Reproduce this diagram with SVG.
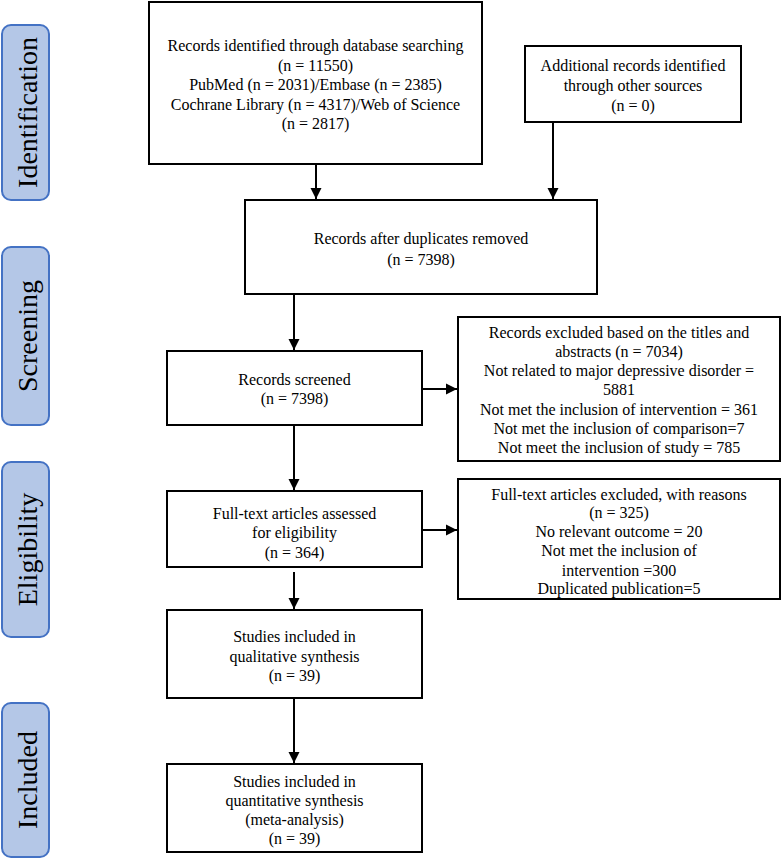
<svg xmlns="http://www.w3.org/2000/svg" width="782" height="859" viewBox="0 0 782 859">
<style>
  .box { fill: #ffffff; stroke: #000000; stroke-width: 2; }
  .phase { fill: #b4c7e7; stroke: #4472c4; stroke-width: 2; }
  .t { font-family: "Liberation Serif", "Times New Roman", serif; font-size: 16px; fill: #000; text-anchor: middle; }
  .pt { font-family: "Liberation Serif", "Times New Roman", serif; font-size: 28px; fill: #000; text-anchor: middle; }
  .conn { stroke: #000; stroke-width: 2; fill: none; marker-end: url(#arrow); }
</style>
<defs>
  <marker id="arrow" markerUnits="userSpaceOnUse" markerWidth="12" markerHeight="12" refX="11" refY="6" orient="auto">
    <path d="M0,0.5 L11,6 L0,11.5 z" fill="#000"/>
  </marker>
</defs>
<rect width="782" height="859" fill="#ffffff"/>

<g id="phase-identification">
  <rect class="phase" x="2" y="25" width="47" height="175" rx="9"/>
  <text class="pt" transform="translate(37,112.5) rotate(-90)">Identification</text>
</g>
<g id="phase-screening">
  <rect class="phase" x="2" y="247" width="47" height="178" rx="9"/>
  <text class="pt" transform="translate(37,336) rotate(-90)">Screening</text>
</g>
<g id="phase-eligibility">
  <rect class="phase" x="2" y="462" width="47" height="175" rx="9"/>
  <text class="pt" transform="translate(37,549.5) rotate(-90)">Eligibility</text>
</g>
<g id="phase-included">
  <rect class="phase" x="2" y="703" width="47" height="154" rx="9"/>
  <text class="pt" transform="translate(37,780) rotate(-90)">Included</text>
</g>

<g id="node-database">
  <rect class="box" x="149" y="2" width="333" height="162"/>
  <text class="t" x="315.5" y="51">Records identified through database searching</text>
  <text class="t" x="315.5" y="70.5">(n = 11550)</text>
  <text class="t" x="315.5" y="90">PubMed (n = 2031)/Embase (n = 2385)</text>
  <text class="t" x="315.5" y="109.5">Cochrane Library (n = 4317)/Web of Science</text>
  <text class="t" x="315.5" y="129">(n = 2817)</text>
</g>
<g id="node-additional">
  <rect class="box" x="525" y="46" width="216" height="76"/>
  <text class="t" x="633" y="70.5">Additional records identified</text>
  <text class="t" x="633" y="90.5">through other sources</text>
  <text class="t" x="633" y="110.5">(n = 0)</text>
</g>
<g id="node-duplicates">
  <rect class="box" x="245" y="200" width="352" height="94"/>
  <text class="t" x="421" y="244">Records after duplicates removed</text>
  <text class="t" x="421" y="265">(n = 7398)</text>
</g>
<g id="node-screened">
  <rect class="box" x="167" y="351" width="255" height="74"/>
  <text class="t" x="294.5" y="384.5">Records screened</text>
  <text class="t" x="294.5" y="403.5">(n = 7398)</text>
</g>
<g id="node-excluded-titles">
  <rect class="box" x="458" y="317" width="322" height="144"/>
  <text class="t" x="619" y="337.5">Records excluded based on the titles and</text>
  <text class="t" x="619" y="356.5">abstracts (n = 7034)</text>
  <text class="t" x="619" y="375.5">Not related to major depressive disorder =</text>
  <text class="t" x="619" y="395">5881</text>
  <text class="t" x="619" y="414.5">Not met the inclusion of intervention = 361</text>
  <text class="t" x="619" y="433.5">Not met the inclusion of comparison=7</text>
  <text class="t" x="619" y="452.5">Not meet the inclusion of study = 785</text>
</g>
<g id="node-fulltext">
  <rect class="box" x="167" y="491" width="255" height="76"/>
  <text class="t" x="294.5" y="518.5">Full-text articles assessed</text>
  <text class="t" x="294.5" y="537.5">for eligibility</text>
  <text class="t" x="294.5" y="557.5">(n = 364)</text>
</g>
<g id="node-excluded-fulltext">
  <rect class="box" x="458" y="479" width="322" height="120"/>
  <text class="t" x="619" y="499.5">Full-text articles excluded, with reasons</text>
  <text class="t" x="619" y="518">(n = 325)</text>
  <text class="t" x="619" y="537">No relevant outcome = 20</text>
  <text class="t" x="619" y="556">Not met the inclusion of</text>
  <text class="t" x="619" y="575.5">intervention =300</text>
  <text class="t" x="619" y="593.5">Duplicated publication=5</text>
</g>
<g id="node-qualitative">
  <rect class="box" x="167" y="610" width="255" height="88"/>
  <text class="t" x="294.5" y="641.5">Studies included in</text>
  <text class="t" x="294.5" y="661.5">qualitative synthesis</text>
  <text class="t" x="294.5" y="680.5">(n = 39)</text>
</g>
<g id="node-quantitative">
  <rect class="box" x="167" y="764" width="255" height="88"/>
  <text class="t" x="294.5" y="786.5">Studies included in</text>
  <text class="t" x="294.5" y="805.5">quantitative synthesis</text>
  <text class="t" x="294.5" y="824.5">(meta-analysis)</text>
  <text class="t" x="294.5" y="843.5">(n = 39)</text>
</g>

<g id="connectors">
  <line class="conn" x1="316" y1="165" x2="316" y2="199"/>
  <line class="conn" x1="553" y1="123" x2="553" y2="199"/>
  <line class="conn" x1="294" y1="295" x2="294" y2="350"/>
  <line class="conn" x1="423" y1="389" x2="457" y2="389"/>
  <line class="conn" x1="294" y1="426" x2="294" y2="490"/>
  <line class="conn" x1="423" y1="530" x2="457" y2="530"/>
  <line class="conn" x1="294" y1="572" x2="294" y2="609"/>
  <line class="conn" x1="294" y1="699" x2="294" y2="763"/>
</g>
</svg>
